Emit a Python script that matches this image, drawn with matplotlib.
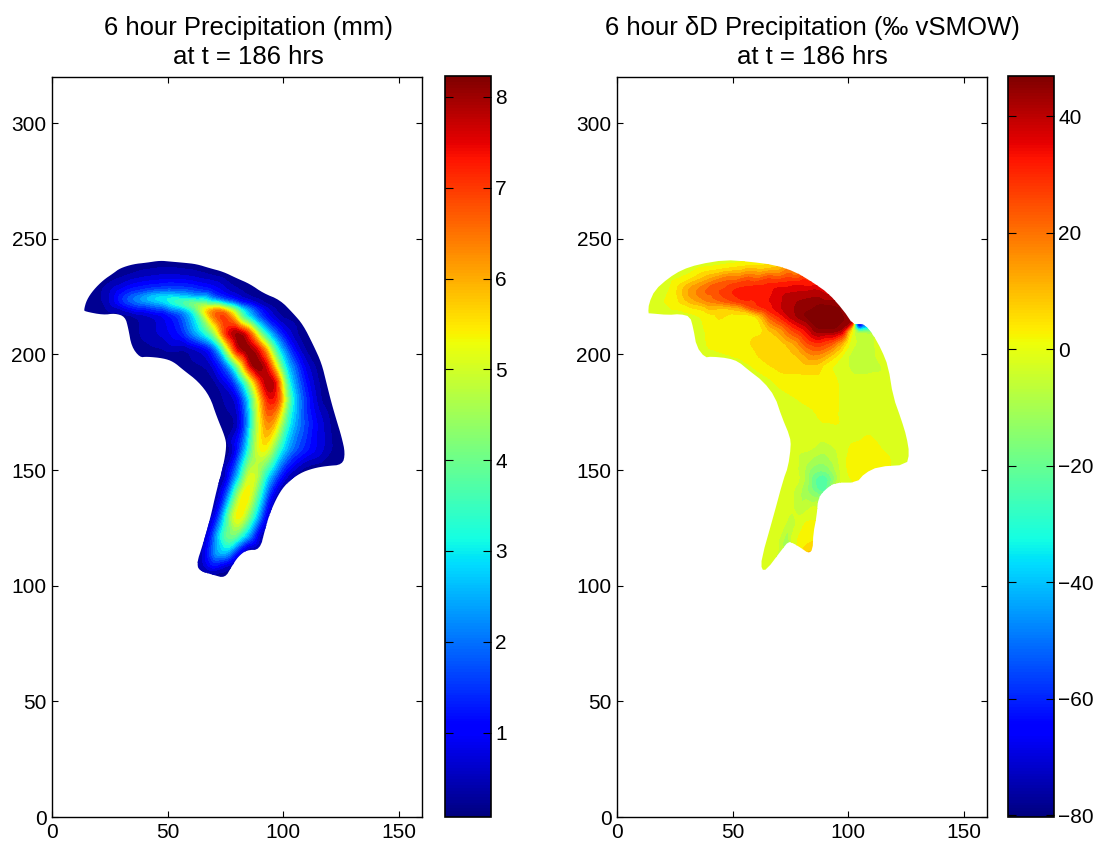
import numpy as np
import matplotlib
matplotlib.use("Agg")
import matplotlib.pyplot as plt
import matplotlib.tri as mtri
from matplotlib.cm import ScalarMappable
from matplotlib.colors import Normalize
from matplotlib.patches import Polygon
from matplotlib.path import Path

plt.rcParams["font.family"] = ["Liberation Sans", "DejaVu Sans"]

TITLE_L = "6 hour Precipitation (mm)\nat t = 186 hrs"
TITLE_R = "6 hour \u03b4D Precipitation (\u2030 vSMOW)\nat t = 186 hrs"
X_TICKS = [0, 50, 100, 150]
Y_TICKS = [0, 50, 100, 150, 200, 250, 300]
RANGE_L = (0.07, 8.23)
RANGE_R = (-80.3, 46.9)
CB_TICKS_L = [1, 2, 3, 4, 5, 6, 7, 8]
CB_TICKS_R = [-80, -60, -40, -20, 0, 20, 40]

# outline of the rain area, left panel
EDGE_LX = [13.8, 15, 17.9, 22.2, 26.5, 29.4, 35.2, 40.9, 46.7, 51, 56.8, 62.5, 68.3, 74, 79.8, 85.6, 91.4, 98.6,
           104.3, 108.6, 113, 116.6, 118.7, 120.9, 123, 125.2, 126.8, 125.6, 118.7, 113, 107.2, 101.4, 97.8, 94.2,
           92.1, 89.9, 84.2, 80.5, 77.7, 74.8, 69.7, 63.3, 62.8, 64.7, 68.3, 71.2, 74, 75.5, 74.8, 71.2, 68.3, 63.3,
           56.8, 52.5, 48.1, 40.9, 38, 34.4, 33, 31.6, 27.2, 22.2, 14.3]
EDGE_LY = [219.3, 223.6, 227.9, 232.2, 235.1, 237.3, 239.1, 239.7, 240.6, 240.2, 239.7, 239.1, 237.3, 235.8, 233,
           230.5, 226.5, 223.6, 217.8, 212.8, 204.1, 196.2, 187.6, 178.9, 171.7, 164.5, 157.3, 152.3, 151.8, 150.8,
           148.7, 144.3, 139.3, 131.4, 124.2, 115.5, 115.5, 112.6, 108.3, 103.3, 104.7, 106.6, 110.5, 116.2, 128.5,
           141.5, 151.5, 160.2, 164.5, 173.2, 181.8, 188.3, 193.3, 196.9, 198.4, 199.1, 198.7, 203.4, 211.3, 216.4,
           217.8, 217.1, 218.6]
EDGE_LV = 0.1

# precipitation
LEFT_ROW_Y = [233.7, 227.9, 224.3, 222.1, 219.3, 216.4, 209.2, 202, 194.8, 187.6, 180.4, 170.3, 158.8, 147.2,
              138.6, 129.9, 121.3, 114.1, 108.3]
LEFT_ROW_X = [
    [25.1, 33.7, 42.4, 51, 59.7, 68.3, 75.5],
    [19.3, 26.5, 33.7, 42.4, 51, 59.7, 68.3, 77, 84.2],
    [22.2, 29.4, 35.2, 41, 45.2, 51, 56.8, 62.5, 69.7, 77, 84.2],
    [26.5, 32.3, 38, 45.2, 51, 56.8, 61.1, 64.7, 68.3, 75.5, 81.3, 88.5, 94.2],
    [25.1, 32.3, 39.5, 48.1, 55.3, 61.1, 63.3, 64.7, 66.1, 69.7, 72.6, 75.5, 79.1, 82, 86.3, 92.8, 98.6],
    [36.6, 45.2, 53.9, 59, 63.3, 66.1, 68.3, 71.9, 74.8, 78.4, 80.5, 82.7, 87, 92.8, 98.6],
    [41, 48.1, 55.3, 61.1, 64.7, 69, 71.2, 72.6, 74.8, 79.8, 84.2, 86.3, 88.5, 90.6, 92.8, 97.1, 101.4, 107.2],
    [58.2, 64, 68.3, 71.2, 73.4, 75.5, 77.7, 79.1, 84.2, 89.2, 92.1, 93.5, 95.7, 97.8, 101.4, 105.8, 110.8],
    [68.3, 75.5, 78.4, 81.3, 83.4, 84.9, 88.5, 92.8, 95, 96.8, 98.6, 100.7, 105, 109.4, 115.1],
    [71.2, 78.4, 81.3, 83.4, 85.6, 87, 89.2, 90.6, 94.2, 97.1, 98.9, 100.7, 102.9, 106.5, 111.5, 116.6],
    [79.8, 83.4, 85.6, 87.3, 88.8, 90.6, 93.5, 97.1, 99.3, 100.7, 102.2, 104.3, 107.9, 113, 117.3],
    [79.8, 83.4, 85.6, 87, 89.2, 91.4, 93.5, 96.4, 98.6, 100, 102.2, 107.2, 114.4, 121.6],
    [78.4, 81.3, 84.2, 86.3, 88.5, 91.1, 94.2, 96.4, 99.3, 104.3, 111.5, 121.6],
    [75.5, 78.4, 81.3, 83.4, 85.6, 88.5, 90.6, 92.8, 97.1, 101.4],
    [72.6, 75.5, 78.4, 80.5, 83.4, 86.3, 88.5, 91.4, 94.2],
    [70.5, 73.4, 75.5, 78.4, 81.3, 84.2, 87, 89.9, 92.8],
    [68.3, 71.9, 74.8, 78.4, 82, 85.6, 89.2],
    [66.9, 71.2, 74.8, 78.4, 81.3],
    [65.4, 69.7, 74.1],
]
LEFT_ROW_V = [
    [.1, .4, .6, .7, .6, .4, .2],
    [.2, .7, 1.2, 1.5, 1.7, 1.6, 1.2, .5, .2],
    [.4, 1.4, 2.2, 2.9, 3.3, 3.4, 3, 2.5, 1.8, 1, .4],
    [.8, 1.6, 2, 2.4, 3.2, 4.2, 4.8, 4.4, 3.5, 2.4, 1.3, .5, .2],
    [.5, .7, 1, 1.3, 2, 3.2, 4.4, 5.4, 6, 6.6, 6.8, 6, 4.6, 3.4, 2.2, .8, .2],
    [.3, .6, 1.3, 2.3, 3.4, 4.6, 6.2, 7, 7.2, 6.2, 4.8, 3.4, 2.2, 1, .3],
    [.5, .7, 1.2, 2.3, 3, 4, 5, 6, 7.4, 8.4, 7.6, 6.5, 5.3, 3.8, 3, 1.7, .8, .2],
    [.3, .6, 1.1, 2, 3, 4.8, 6, 7.5, 8.4, 7.6, 6.6, 5.6, 4.2, 3, 1.9, .8, .2],
    [.4, 1.8, 3, 4.8, 6.3, 7.4, 8.5, 7.8, 6.6, 5.5, 4.2, 3, 1.9, .8, .2],
    [.3, 1.3, 2.4, 3.2, 4.6, 5.4, 6.4, 7.5, 8.2, 7.6, 6.2, 4.2, 3, 1.9, .8, .2],
    [.6, 2, 3, 4.2, 5.2, 6, 7.5, 7.3, 6.3, 5, 4.2, 3, 1.9, .8, .2],
    [.3, 1.5, 2.8, 4, 5, 6, 6.5, 6, 5, 4.2, 3.2, 2, .9, .2],
    [.4, 1.5, 2.8, 4, 5, 5.6, 5, 4, 3, 1.9, 1.1, .3],
    [.6, 1.8, 3, 4.4, 5.4, 5, 4, 3, 1.7, .6],
    [.6, 1.8, 3.5, 4.8, 5.9, 5, 3.9, 2.6, 1.2],
    [.8, 2.2, 3.6, 5.2, 5.7, 4.6, 3.4, 2.2, .6],
    [1.1, 2.8, 4, 4.3, 3.3, 2.2, .6],
    [1.1, 2.6, 2.8, 1.8, .6],
    [.6, 1.3, .6],
]

# outline of the deltaD field, right panel, with the value read on it
EDGE_RX = [13.5, 13.8, 16.4, 22.2, 28, 35.2, 46.7, 56.8, 68.3, 77, 84.2, 91.4, 97.8, 102.2, 104.3, 107.2, 110.8,
           114.4, 117.3, 119.4, 123, 125.2, 126.4, 125.2, 113, 107.2, 103.6, 94.2, 89.9, 87, 86.3, 84.9, 84.6, 82.7,
           79.8, 76.2, 74.1, 71.2, 64.7, 62.5, 62.5, 67.6, 71.9, 74, 75.2, 74.8, 71.2, 68.3, 63.3, 56.8, 52.5, 48.1,
           40.9, 38, 34.4, 33, 31.6, 27.2, 22.2, 14.3]
EDGE_RY = [217.8, 222.1, 227.9, 233, 236.6, 239, 240.9, 240.2, 238.7, 235.8, 231.5, 226.5, 219.3, 212.8, 213.2,
           212.8, 208.5, 202, 194.8, 181.8, 171.7, 164.5, 157.3, 152.3, 151.5, 148.7, 144.6, 144.6, 141.5, 137.9,
           129.9, 122.7, 115.5, 114.1, 116.2, 118.4, 119.1, 115.5, 106.9, 106.9, 111.9, 129.9, 145.8, 151.5, 160.2,
           164.5, 173.2, 181.8, 188.3, 193.3, 196.9, 198.4, 199.1, 198.7, 203.4, 211.3, 216.4, 217.5, 217.1, 217.8]
EDGE_RV = [-2, -2, -2, -2, -2, -2, -4, -1, 4, 15, 28, 36, 40, 30, -70, -50, -4,
           -2, -2, -2, -2, -2, -2, -2, 2, 2, 1, -5, -22, -12,
           -1, 2, 6, 10, 3, -2, -15, -8, -2, -2, -2, -2, -2, -2, -2,
           -2, -2, -2, -2, -2, -2, -2,
           -2, -2, -2, -2, -2, -2, -2, -2]

RIGHT_ROW_Y = [236.6, 233, 229.3, 226.5, 222.9, 220, 216.4, 210.6, 204.9, 199.1, 194.8, 187.6, 180.4, 173.2, 166,
               160.2, 154.4, 150.1, 145.8, 141.5, 134.2, 127, 119.8, 115.5]
RIGHT_ROW_X = [
    [25.1, 36.6, 45.2, 53.9, 62.5, 69.7, 75.5],
    [22.2, 29.4, 35.2, 41, 48.1, 56.8, 65.4, 74.1, 81.3],
    [18.6, 23.6, 27.2, 31.6, 36.6, 42.4, 49.6, 58.2, 68.3, 78.4, 85.6],
    [16.4, 23.6, 27.2, 31.6, 38, 45.2, 51, 61.1, 71.2, 81.3, 88.5],
    [15, 22.2, 27.2, 32.3, 39.5, 46.7, 53.9, 62.5, 69.7, 78.4, 87, 95.7],
    [14.3, 23.6, 32.3, 38, 46.7, 53.9, 56.8, 59.7, 64, 71.2, 78.4, 88.5, 97.1],
    [33.7, 39.5, 51, 59.7, 62.5, 65.4, 69.7, 75.5, 82.7, 88.5, 97.1, 100],
    [33.7, 41, 53.9, 62.5, 65.4, 71.2, 75.5, 81.3, 87, 94.2, 97.8, 100],
    [35.2, 41, 51, 62.5, 71.2, 77, 81.3, 87, 92.8, 96.4, 99.3, 102.9, 108.6, 113.7],
    [41, 48.1, 55.3, 65.4, 75.5, 79.8, 84.2, 88.5, 92.8, 97.1, 101.4, 108.6, 114.4],
    [53.9, 61.1, 71.2, 79.8, 87, 89.9, 94.2, 100, 105.8, 113],
    [64, 69.7, 79.8, 88.5, 94.2, 98.6, 108.6, 118.7],
    [69.7, 77, 85.6, 94.2, 97.1, 108.6, 120.2],
    [72.6, 84.2, 89.2, 94.2, 97.8, 108.6, 121.6],
    [75.5, 87, 101.4, 115.9, 124.5],
    [75.5, 84.2, 89.9, 95.7, 101.4, 108.7, 114.4, 124.5],
    [75.5, 81.3, 85.6, 89.9, 94.2, 97.1, 100.7, 108.7, 115.9, 124.5],
    [74.8, 79.8, 83.4, 87.8, 92.1, 95.7, 100, 105.8],
    [72.6, 78.4, 82, 85.6, 89.2, 92.8, 97.1, 102.2],
    [71.2, 77, 81.3, 84.9, 88.5],
    [69.7, 75.5, 79.1, 82.7, 85.6],
    [67.6, 72.6, 75.5, 78.4, 82, 84.9],
    [65.4, 69.7, 73.4, 75.5, 79.8, 84.2],
    [63.3, 69.7, 83.4],
]
RIGHT_ROW_V = [
    [-2, 2, 5, 8, 9, 12, 20],
    [-2, 1, 7, 13, 20, 24, 26, 27, 30],
    [-2, .5, 6, 13, 18, 25, 29, 31, 34, 36, 37],
    [-2, 1, 7, 15, 22, 27, 31, 34, 38, 40, 40],
    [-2, 1, 5, 11, 18, 24, 30, 33, 36, 43, 45, 43],
    [-2, 1, 4, 6, 8, 12, 24, 28, 31, 39, 44, 50, 47],
    [-1, 2, 2, 2, 10, 22, 30, 41, 49, 50, 49, 44],
    [-2, 2, 2, 3, 8, 16, 26, 34, 47, 47, 42, 10],
    [-2, 2, 2, 6.5, 7, 14, 24, 30, 24, 14, 3, -4, -6, -2],
    [-2, 0, 2, 6.5, 7, 10, 16, 14, 7, 0, -6, -6.5, -2],
    [-1, 2, 6.5, 6.5, 7, 2, -1, -4, -6, -5],
    [-2, 1, 2, 2, 1.5, -2, -2, -2],
    [-2, 0, 2, 2, -1, -2, -2],
    [-2, -1, 1.5, 1.5, -2, -2, -2],
    [-2, -2, -2, -2, -2],
    [-2, -3, -6, -3, 1, 2, 0, -2],
    [-2, -6, -10, -11, -6, -2, 2, 3, 1, -2],
    [-2, -5, -13, -16, -13, -5, 1, 2],
    [-2, -3, -10, -22, -27, -18, -3, 1],
    [-2, -4, -11, -18, -24],
    [-2, -3, -8, -5, -2],
    [-2, -3, -8, -2, 1, 2],
    [-2, -3, -12, -2, 2, 4],
    [-2, -3, 10],
]
# the sharp cold spot on the edge of the warm core
TIP_X = [100.7, 102.2, 102.9, 104.6, 106.9, 104.6, 102.9, 107.2]
TIP_Y = [212.8, 211.8, 212.1, 212.3, 212.1, 209.9, 208.5, 209.2]
TIP_V = [44, 0, -40, -85, -50, -15, -5, -4]

W, H = 1097, 847
PASSO = 0.5


def rect(x0, x1, y0=77, y1=817):
    return [x0 / W, (H - y1) / H, (x1 - x0) / W, (y1 - y0) / H]


def achata(row_y, row_x, row_v):
    y = np.concatenate([[yy] * len(xx) for yy, xx in zip(row_y, row_x)])
    return np.concatenate(row_x), y, np.concatenate(row_v)


def arredonda(p, n):
    # corner cutting so the outline is not made of straight pieces
    for _ in range(n):
        q = np.roll(p, -1, axis=0)
        p = np.column_stack([0.75 * p + 0.25 * q, 0.25 * p + 0.75 * q]).reshape(-1, 2)
    return p


def borra(z, sigma):
    k = np.arange(-int(4 * sigma / PASSO), int(4 * sigma / PASSO) + 1) * PASSO
    k = np.exp(-k ** 2 / (2 * sigma ** 2))
    k /= k.sum()
    z = np.apply_along_axis(np.convolve, 0, z, k, mode="same")
    return np.apply_along_axis(np.convolve, 1, z, k, mode="same")


def campo(ax, ex, ey, ev, x, y, v, vmin, vmax, n_arred, sigma):
    xs = np.r_[ex, x]
    ys = np.r_[ey, y]
    vs = np.r_[np.broadcast_to(ev, (len(ex),)), v]
    contorno = np.column_stack([ex, ey])
    tri = mtri.Triangulation(xs, ys)
    cx = xs[tri.triangles].mean(axis=1)
    cy = ys[tri.triangles].mean(axis=1)
    tri.set_mask(~Path(contorno).contains_points(np.column_stack([cx, cy])))
    gx, gy = np.meshgrid(np.arange(5, 135, PASSO), np.arange(95, 250, PASSO))
    z = mtri.LinearTriInterpolator(tri, vs)(gx, gy)
    dentro = (~np.ma.getmaskarray(z)).astype(float)
    peso = borra(dentro, sigma)
    z = borra(np.ma.filled(z, 0.0) * dentro, sigma) / np.maximum(peso, 1e-6)
    niveis = np.linspace(vmin, vmax, 31)
    cs = ax.contourf(gx, gy, z, levels=niveis, cmap="jet", vmin=vmin, vmax=vmax, extend="both")
    clip = Polygon(arredonda(contorno, n_arred), transform=ax.transData, fc="none", ec="none")
    ax.add_patch(clip)
    cs.set_clip_path(clip)


def eixos(ax, titulo, x_tit):
    ax.set_xlim(0, 160)
    ax.set_ylim(0, 320)
    ax.set_xticks(X_TICKS)
    ax.set_yticks(Y_TICKS)
    ax.tick_params(direction="in", top=True, right=True, length=4, width=0.8, labelsize=15, pad=4)
    ax.set_title(titulo, fontsize=18.5, x=x_tit, pad=9, linespacing=1.29)
    for s in ax.spines.values():
        s.set_linewidth(1.0)


def barra(fig, pos, faixa, ticks):
    cax = fig.add_axes(pos)
    sm = ScalarMappable(Normalize(*faixa), "jet")
    cb = fig.colorbar(sm, cax=cax)
    cb.set_ticks(ticks)
    cb.set_ticklabels([str(t).replace("-", "\u2212") for t in ticks])
    cax.tick_params(direction="in", left=True, right=True, length=6, width=0.8, labelsize=15, pad=3)
    cb.outline.set_linewidth(1.2)


fig = plt.figure(figsize=(W / 100, H / 100), dpi=100)

ax1 = fig.add_axes(rect(52, 422))
lx, ly, lv = achata(LEFT_ROW_Y, LEFT_ROW_X, LEFT_ROW_V)
campo(ax1, EDGE_LX, EDGE_LY, EDGE_LV, lx, ly, lv, *RANGE_L, 2, 1.3)
eixos(ax1, TITLE_L, 0.532)
barra(fig, rect(445, 491, 76, 817), RANGE_L, CB_TICKS_L)

ax2 = fig.add_axes(rect(617, 987))
rx, ry, rv = achata(RIGHT_ROW_Y, RIGHT_ROW_X, RIGHT_ROW_V)
campo(ax2, EDGE_RX, EDGE_RY, EDGE_RV, np.r_[rx, TIP_X], np.r_[ry, TIP_Y], np.r_[rv, TIP_V], *RANGE_R, 1, 0.8)
eixos(ax2, TITLE_R, 0.527)
barra(fig, rect(1008, 1054, 76, 817), RANGE_R, CB_TICKS_R)

fig.savefig("out.png", dpi=100)
